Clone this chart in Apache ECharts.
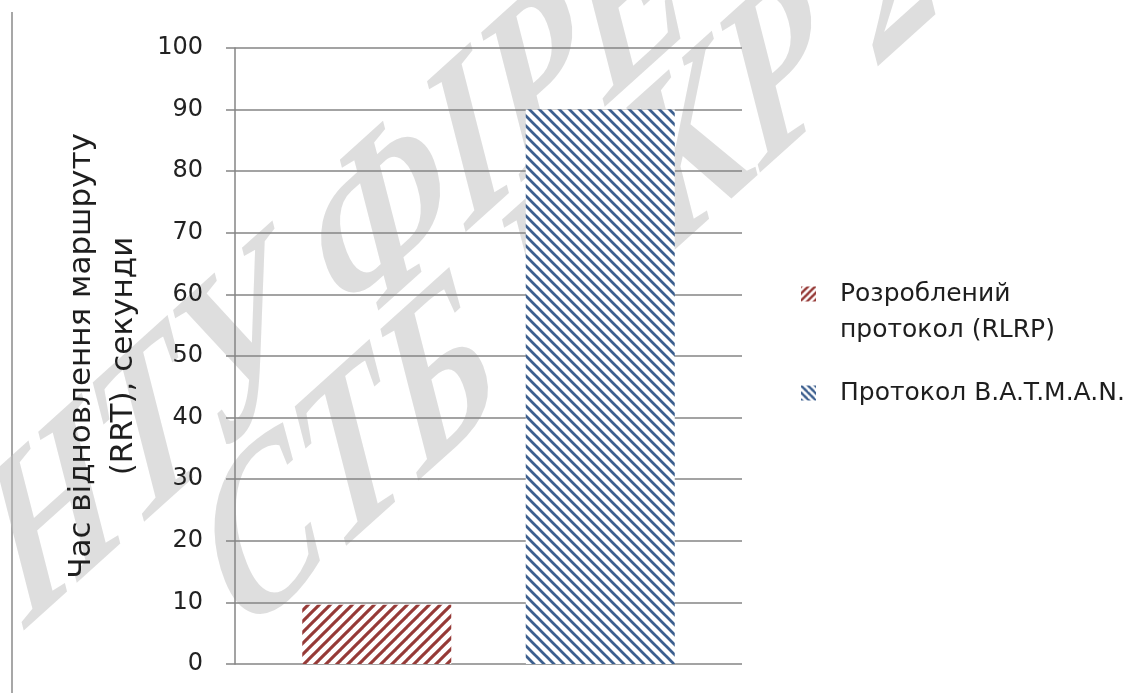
<!DOCTYPE html>
<html>
<head>
<meta charset="utf-8">
<script src="https://cdn.jsdelivr.net/npm/echarts@6/dist/echarts.min.js"></script>
<style>
  html, body { margin: 0; padding: 0; background: #ffffff; }
  #chart { width: 1142px; height: 693px; }
</style>
</head>
<body>
<div id="chart"></div>
<script>
// Route recovery time (RRT), seconds
const categories = ['RRT'];
const seriesNames = ['Розроблений\nпротокол (RLRP)', 'Протокол B.A.T.M.A.N.'];
const rlrpValues = [9.6];
const batmanValues = [90];
const yMin = 0;
const yMax = 100;
const yStep = 10;
const axisTitle = 'Час відновлення маршруту\n(RRT), секунди';
const watermarkLines = ['НТУ ФІРЕ', 'СТБ МКР 2'];

const RED = '#963a37';
const BLUE = '#3c5f8f';

// Diagonal hatch on white as a repeating canvas pattern
function hatch(color, period, width, dir) {
  const c = document.createElement('canvas');
  c.width = period;
  c.height = period;
  const g = c.getContext('2d');
  g.fillStyle = '#ffffff';
  g.fillRect(0, 0, period, period);
  g.strokeStyle = color;
  g.lineWidth = width;
  for (let k = -1; k <= 1; k++) {
    g.beginPath();
    if (dir === '/') {
      g.moveTo(k * period - 1, period + 1);
      g.lineTo(k * period + period + 1, -1);
    } else {
      g.moveTo(k * period - 1, -1);
      g.lineTo(k * period + period + 1, period + 1);
    }
    g.stroke();
  }
  return { image: c, repeat: 'repeat' };
}

const redFill = hatch(RED, 11, 3.1, '/');
const blueFill = hatch(BLUE, 10, 2.7, '\\');
const redIcon = hatch(RED, 7, 2.4, '/');
const blueIcon = hatch(BLUE, 7, 2.4, '\\');

const chart = echarts.init(document.getElementById('chart'), null, { renderer: 'canvas' });

// Watermark: rotated serif text inside a vertically stretched group
const wmFont = 'italic bold 162px "Liberation Serif", "DejaVu Serif", serif';
const wmAngle = 31 * Math.PI / 180;
const wmStretch = 1.5;

function watermark(text, cx, cy) {
  return {
    type: 'text',
    silent: true,
    x: cx,
    y: cy / wmStretch,
    rotation: wmAngle,
    style: { text: text, font: wmFont, fill: '#bdbdbd', opacity: 0.5,
             align: 'center', verticalAlign: 'middle' }
  };
}

chart.setOption({
  backgroundColor: '#ffffff',
  animation: false,
  textStyle: { fontFamily: '"DejaVu Sans", sans-serif' },
  grid: { left: 235, right: 400, top: 48, bottom: 29, containLabel: false },
  legend: {
    orient: 'vertical',
    left: 796,
    top: 235,
    itemWidth: 15,
    itemHeight: 15,
    itemGap: 27,
    icon: 'rect',
    selectedMode: false,
    formatter: function (name) {
      // keep the first text line level with the icon
      return name.indexOf('\n') >= 0 ? '\u00a0\n' + name : name;
    },
    textStyle: {
      fontSize: 25,
      lineHeight: 36,
      color: '#1e1e1e',
      padding: [0, 0, 0, 19]
    },
    data: [
      { name: seriesNames[0], itemStyle: { color: redIcon } },
      { name: seriesNames[1], itemStyle: { color: blueIcon } }
    ]
  },
  xAxis: {
    type: 'category',
    data: categories,
    axisLine: { show: false },
    axisTick: { show: false },
    axisLabel: { show: false },
    splitLine: { show: false }
  },
  yAxis: {
    type: 'value',
    z: 0,
    min: yMin,
    max: yMax,
    interval: yStep,
    name: axisTitle,
    nameLocation: 'middle',
    nameRotate: 90,
    nameGap: 90,
    nameTextStyle: {
      fontSize: 31,
      lineHeight: 42,
      color: '#1e1e1e',
      align: 'center'
    },
    axisLine: { show: true, lineStyle: { color: '#858585', width: 1.5 } },
    axisTick: { show: true, inside: false, length: 9, lineStyle: { color: '#858585', width: 1.5 } },
    axisLabel: { fontSize: 24, color: '#222222', margin: 32 },
    splitLine: { show: true, lineStyle: { color: '#858585', width: 1.5 } }
  },
  series: [
    {
      name: seriesNames[0],
      type: 'bar',
      z: 5,
      data: rlrpValues,
      barWidth: 149,
      barGap: '50%',
      itemStyle: { color: redFill }
    },
    {
      name: seriesNames[1],
      type: 'bar',
      z: 5,
      data: batmanValues,
      barWidth: 149,
      barGap: '50%',
      itemStyle: { color: blueFill }
    }
  ],
  graphic: [
    {
      type: 'line',
      silent: true,
      shape: { x1: 12, y1: 12, x2: 12, y2: 693 },
      style: { stroke: '#8a8a8a', lineWidth: 1.5 }
    },
    {
      type: 'group',
      silent: true,
      z: 100,
      x: 0,
      y: 0,
      scaleY: wmStretch,
      children: [
        watermark(watermarkLines[0], 340, 272),
        watermark(watermarkLines[1], 574, 267)
      ]
    }
  ]
});
</script>
</body>
</html>
